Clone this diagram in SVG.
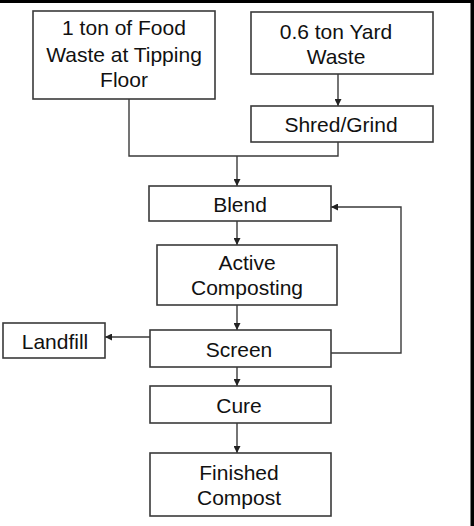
<svg xmlns="http://www.w3.org/2000/svg" width="474" height="526" viewBox="0 0 474 526">
<style>
.box{fill:#fff;stroke:#3a3a3a;stroke-width:1.6}
.t{font-family:"Liberation Sans",Arial,sans-serif;font-size:21px;fill:#111;text-anchor:middle}
.c{fill:none;stroke:#3a3a3a;stroke-width:1.4}
</style>
<defs>
<marker id="ah" viewBox="0 0 10 10" refX="10" refY="5" markerWidth="7" markerHeight="7" markerUnits="userSpaceOnUse" orient="auto">
<path d="M0,0 L10,5 L0,10 z" fill="#222"/>
</marker>
</defs>
<rect x="0" y="0" width="474" height="526" fill="#fff"/>
<rect x="0" y="0" width="474" height="3" fill="#000"/>
<rect x="470.5" y="0" width="3.5" height="526" fill="#000"/>
<g id="connectors">
<path class="c" d="M338,74 V106" marker-end="url(#ah)"/>
<path class="c" d="M129,99 V156 H338 V142"/>
<path class="c" d="M237,156 V186" marker-end="url(#ah)"/>
<path class="c" d="M237,221 V245" marker-end="url(#ah)"/>
<path class="c" d="M237,305 V330" marker-end="url(#ah)"/>
<path class="c" d="M150,337 H105" marker-end="url(#ah)"/>
<path class="c" d="M331,353 H401 V207 H331" marker-end="url(#ah)"/>
<path class="c" d="M237,367 V386" marker-end="url(#ah)"/>
<path class="c" d="M237,423 V453" marker-end="url(#ah)"/>
</g>
<g id="food"><rect class="box" x="33" y="11" width="182" height="88"/>
<text class="t" x="124" y="35">1 ton of Food</text><text class="t" x="124" y="62">Waste at Tipping</text><text class="t" x="124" y="87">Floor</text></g>
<g id="yard"><rect class="box" x="251" y="12" width="182" height="62"/>
<text class="t" x="336" y="39">0.6 ton Yard</text><text class="t" x="336" y="64">Waste</text></g>
<g id="shred"><rect class="box" x="251" y="106" width="182" height="36"/>
<text class="t" x="341" y="132">Shred/Grind</text></g>
<g id="blend"><rect class="box" x="149" y="186" width="182" height="35"/>
<text class="t" x="240" y="212">Blend</text></g>
<g id="active"><rect class="box" x="157" y="245" width="180" height="60"/>
<text class="t" x="247" y="270">Active</text><text class="t" x="247" y="295">Composting</text></g>
<g id="screen"><rect class="box" x="150" y="330" width="181" height="37"/>
<text class="t" x="239" y="357">Screen</text></g>
<g id="landfill"><rect class="box" x="3" y="323" width="102" height="35"/>
<text class="t" x="55" y="349">Landfill</text></g>
<g id="cure"><rect class="box" x="150" y="386" width="181" height="37"/>
<text class="t" x="239" y="413">Cure</text></g>
<g id="finished"><rect class="box" x="150" y="453" width="181" height="63"/>
<text class="t" x="239" y="480">Finished</text><text class="t" x="239" y="505">Compost</text></g>
</svg>
